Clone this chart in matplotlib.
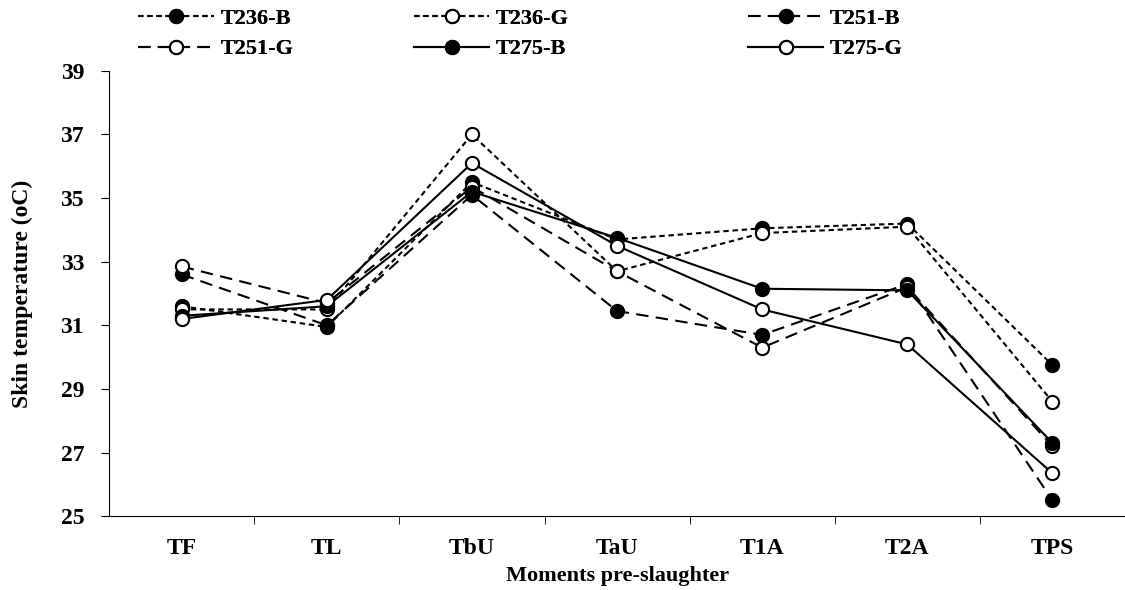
import matplotlib
matplotlib.use("Agg")
from matplotlib import pyplot as plt

# moments pre-slaughter on the x axis
moments = ["TF", "TL", "TbU", "TaU", "T1A", "T2A", "TPS"]

# skin temperature (oC)
t236_b = [31.6, 30.95, 35.5, 33.7, 34.05, 34.2, 29.75]
t236_g = [31.5, 31.5, 37.0, 32.7, 33.9, 34.1, 28.6]
t251_b = [32.6, 31.0, 35.1, 31.45, 30.7, 32.3, 25.5]
t251_g = [32.85, 31.7, 35.35, 32.7, 30.3, 32.2, 27.2]
t275_b = [31.3, 31.6, 35.2, 33.75, 32.15, 32.1, 27.3]
t275_g = [31.2, 31.8, 36.1, 33.5, 31.5, 30.4, 26.35]

yticks = [25, 27, 29, 31, 33, 35, 37, 39]

plt.rcParams["font.family"] = ["Liberation Serif", "DejaVu Serif"]
plt.rcParams["font.weight"] = "bold"

fig = plt.figure(figsize=(11.25, 5.9), dpi=100)
ax = fig.add_axes([0.097, 0.125, 0.903, 0.755])

short = (0, (2.6, 1.8))
long_ = (0, (6, 3.5))
x = list(range(len(moments)))

series = [
    ("T236-B", t236_b, short, "black"),
    ("T236-G", t236_g, short, "white"),
    ("T251-B", t251_b, long_, "black"),
    ("T251-G", t251_g, long_, "white"),
    ("T275-B", t275_b, "-", "black"),
    ("T275-G", t275_g, "-", "white"),
]
handles = {}
for name, vals, ls, face in series:
    (h,) = ax.plot(x, vals, color="black", linestyle=ls, linewidth=1.5,
                   marker="o", markersize=9.5, markerfacecolor=face,
                   markeredgecolor="black", markeredgewidth=1.5, label=name)
    handles[name] = h

ax.set_xlim(-0.5, 6.5)
ax.set_ylim(25, 39)
ax.set_yticks(yticks)
ax.set_xticks(x)
ax.set_xticklabels(moments)
ax.set_xticks([i + 0.5 for i in range(6)], minor=True)
ax.tick_params(axis="x", which="major", length=0, pad=16, labelsize=17)
ax.tick_params(axis="x", which="minor", length=6, direction="out")
ax.tick_params(axis="y", length=6, direction="out", labelsize=17, pad=12)
for lab in ax.get_xticklabels() + ax.get_yticklabels():
    lab.set_fontweight("bold")
ax.spines["top"].set_visible(False)
ax.spines["right"].set_visible(False)
ax.set_ylabel("Skin temperature (oC)", fontsize=17, fontweight="bold", labelpad=20)
ax.set_xlabel("Moments pre-slaughter", fontsize=16, fontweight="bold", labelpad=5)

# legend: three columns placed where they sit in the original
columns = [(["T236-B", "T251-G"], 0.105), (["T236-G", "T275-B"], 0.35),
           (["T251-B", "T275-G"], 0.647)]
for names, xpos in columns:
    leg = fig.legend([handles[k] for k in names], names, loc="upper left",
                     bbox_to_anchor=(xpos, 1.02), frameon=False,
                     prop={"family": "Liberation Serif", "weight": "bold", "size": 16},
                     handlelength=3.4, handletextpad=0.3, labelspacing=0.45)
    fig.add_artist(leg)

fig.savefig("out.png", dpi=100)
